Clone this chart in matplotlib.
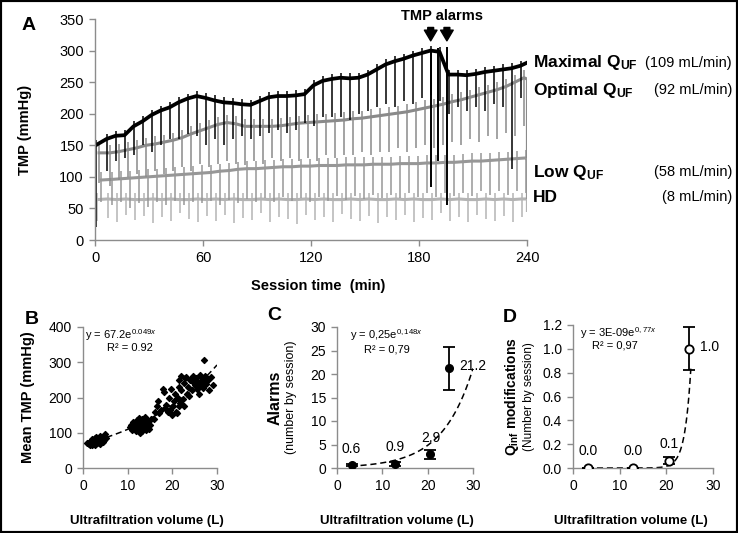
import numpy as np
import matplotlib
matplotlib.use("Agg")
from matplotlib import pyplot as plt
from matplotlib.patches import Rectangle
from matplotlib.ticker import FormatStrFormatter

plt.rcParams['font.family'] = ['Liberation Sans', 'DejaVu Sans']
plt.rcParams['mathtext.fontset'] = 'custom'
plt.rcParams['mathtext.rm'] = 'Liberation Sans'
plt.rcParams['mathtext.it'] = 'Liberation Sans:italic'
plt.rcParams['mathtext.bf'] = 'Liberation Sans:bold'

# ---- panel A: TMP trace, level and dip bottom at each pump cycle (min, mmHg)
t_cycle = [1, 7, 12, 17, 22, 27, 32, 37, 42, 47, 52, 57, 62, 67, 72, 77, 82,
           87, 92, 97, 102, 107, 112, 117, 122, 127, 132, 137, 142, 147, 152,
           157, 162, 167, 172, 177, 182, 187, 192, 197, 202, 207, 212, 217,
           222, 227, 232, 237, 240]
# the four sessions are not in phase: shift of each trace's cycles (min)
cycle_shift = [-0.6, 1.3, 2.5, 0.0]
# small overshoot above the level at each cycle (mmHg)
overshoot = [8, 12, 12, 10]

max_level = [150, 160, 165, 166, 180, 188, 198, 205, 210, 218, 224, 228, 225,
             221, 218, 217, 215, 214, 220, 226, 228, 228, 229, 231, 245, 252,
             255, 257, 256, 257, 262, 270, 278, 283, 287, 292, 296, 300, 298,
             262, 262, 261, 263, 266, 268, 270, 272, 276, 280]
max_dip = [20, 110, 125, 130, 135, 150, 140, 150, 160, 160, 168, 165, 150,
           160, 150, 160, 165, 160, 165, 170, 175, 170, 175, 185, 180, 195,
           195, 195, 190, 200, 205, 210, 215, 210, 220, 215, 225, 230, 220,
           200, 210, 205, 210, 205, 215, 210, 112, 225, 280]

opt_level = [138, 138, 140, 143, 146, 150, 152, 155, 158, 162, 168, 173, 178,
             183, 186, 184, 180, 180, 180, 180, 181, 183, 185, 186, 187, 188,
             189, 190, 192, 193, 195, 197, 199, 201, 203, 206, 209, 212, 215,
             219, 222, 226, 230, 234, 238, 243, 250, 257, 255]
opt_dip = [90, 85, 95, 100, 105, 100, 110, 105, 110, 115, 110, 120, 115, 120,
           125, 120, 118, 125, 120, 130, 125, 130, 125, 130, 125, 135, 130,
           135, 135, 140, 135, 140, 140, 145, 140, 145, 150, 145, 150, 155,
           150, 160, 155, 165, 160, 170, 165, 180, 130]

low_level = [95, 96, 97, 98, 99, 100, 101, 102, 103, 104, 105, 106, 107, 109,
             110, 112, 113, 113, 114, 115, 116, 116, 117, 117, 118, 118, 118,
             119, 119, 119, 120, 120, 120, 121, 121, 121, 122, 122, 123, 123,
             124, 125, 125, 126, 127, 128, 129, 130, 128]
low_dip = [60, 55, 60, 50, 58, 52, 60, 55, 62, 55, 60, 58, 62, 55, 63, 58, 65,
           60, 66, 60, 68, 62, 66, 60, 68, 62, 70, 64, 70, 65, 72, 66, 72, 66,
           74, 68, 74, 68, 75, 70, 75, 70, 77, 72, 78, 72, 78, 74, 65]

hd_level = [64, 65, 64, 65, 64, 64, 65, 64, 65, 64, 64, 65, 64, 65, 64, 65,
            64, 64, 65, 64, 65, 64, 64, 65, 64, 65, 64, 64, 65, 64, 65, 64,
            64, 65, 64, 65, 64, 64, 65, 64, 65, 64, 64, 65, 64, 65, 64, 65, 65]
hd_dip = [30, 35, 28, 40, 32, 38, 27, 36, 30, 42, 33, 28, 38, 30, 40, 27, 35,
          31, 42, 29, 36, 33, 25, 40, 32, 37, 28, 41, 33, 30, 38, 27, 36, 32,
          40, 29, 35, 31, 42, 30, 37, 28, 39, 33, 30, 38, 29, 36, 44]

alarm_t = [186.5, 190.5, 195.5]
alarm_low = [84, 125, 55]
alarm_high = [300, 304, 306]

series_names = ["Maximal Q$_\\mathbf{UF}$", "Optimal Q$_\\mathbf{UF}$",
                "Low Q$_\\mathbf{UF}$", "HD"]
series_rates = ["(109 mL/min)", "(92 mL/min)", "(58 mL/min)", "(8 mL/min)"]

# ---- panel B: mean TMP per session vs ultrafiltration volume
uf_vol = [1.0, 1.2, 1.4, 1.5, 1.6, 1.8, 1.9, 2.0, 2.1, 2.2, 2.3, 2.4, 2.5,
          2.6, 2.7, 2.8, 2.9, 3.0, 3.1, 3.2, 3.3, 3.4, 3.5, 3.6, 3.8, 3.9,
          4.0, 4.2, 4.4, 4.6, 4.8, 5.0, 5.1, 4.5, 2.0, 3.7,
          10.5, 10.8, 11.0, 11.2, 11.4, 11.6, 11.8, 12.0, 12.2, 12.4, 12.5,
          12.7, 12.9, 13.0, 13.2, 13.3, 13.5, 13.7, 13.9, 14.0, 14.2, 14.4,
          14.6, 14.8, 15.0, 15.3, 12.8, 11.0,
          15.8, 16.2, 16.5, 16.8, 17.0, 17.5, 18.0, 18.2, 18.3, 18.6, 19.0,
          19.2, 19.5, 19.8, 20.0, 20.2, 20.4, 20.6, 20.8, 21.0, 21.2, 21.4,
          21.6, 21.8, 22.0, 22.3, 22.5, 22.8,
          21.5, 22.0, 22.6, 23.0, 23.2, 23.5, 23.8, 24.0, 24.3, 24.6, 24.8,
          25.0, 25.3, 25.5, 25.8, 26.0, 26.2, 26.4, 26.6, 26.8, 27.0, 27.2,
          27.4, 27.6, 28.0, 28.3, 28.6, 29.0, 26.0, 25.0]
mean_tmp = [70, 72, 68, 75, 66, 70, 78, 64, 73, 80, 69, 76, 72, 84, 66, 79,
            74, 88, 70, 82, 77, 73, 85, 80, 76, 90, 82, 78, 86, 80, 90, 96,
            84, 74, 82, 68,
            115, 122, 108, 130, 118, 112, 104, 125, 135, 110, 142, 120, 116,
            130, 105, 138, 124, 112, 145, 128, 108, 118, 132, 110, 122, 140,
            100, 110,
            140, 160, 175, 190, 155, 165, 225, 215, 170, 180, 158, 200, 165,
            225, 150, 175, 190, 210, 160, 155, 200, 230, 175, 185, 220, 195,
            175, 255,
            250, 262, 240, 258, 210, 230, 205, 250, 220, 260, 240, 235, 255,
            225, 245, 230, 265, 240, 250, 228, 305, 245, 260, 238, 250, 220,
            258, 235, 210, 250]
fit_b = (67.2, 0.049)

# ---- panels C and D: group means by UF volume
group_vol = [3.2, 12.9, 20.6, 24.8]
alarms = [0.6, 0.9, 2.9, 21.2]
alarms_err = [0.2, 0.4, 1.0, 4.5]
fit_c = (0.25, 0.148)
qinf_mod = [0.0, 0.0, 0.06, 1.0]
qinf_err = [0.0, 0.0, 0.03, 0.18]
fit_d = (3e-9, 0.77)

W, H = 738, 533


def px(x):
    return x / W


def py(y):
    return 1 - y / H


def box(left, top, right, bottom):
    return [px(left), py(bottom), (right - left) / W, (bottom - top) / H]


def style(ax, size):
    for s in ['top', 'right']:
        ax.spines[s].set_visible(False)
    for s in ['left', 'bottom']:
        ax.spines[s].set_color('#8c8c8c')
        ax.spines[s].set_linewidth(1.0)
    ax.tick_params(color='#8c8c8c', labelcolor='black', length=4, width=1,
                   direction='out', labelsize=size, pad=4)


fig = plt.figure(figsize=(W / 100, H / 100), dpi=100)

# panel A
ax = fig.add_axes(box(95, 19, 527, 240))
colors = ['black', '#8a8a8a', '#979797', '#b4b4b4']
levels = [max_level, opt_level, low_level, hd_level]
dips = [max_dip, opt_dip, low_dip, hd_dip]
for i in [3, 2, 1, 0]:
    tt = np.clip(np.array(t_cycle) + cycle_shift[i], 0, 240)
    lev = np.array(levels[i])
    ax.vlines(tt[:-1], np.array(dips[i])[:-1], lev[:-1] + overshoot[i],
              color=colors[i], lw=1.1)
    ax.vlines(tt[-1], dips[i][-1], lev[-1], color=colors[i], lw=1.6)
    ax.plot(tt, lev, color=colors[i], lw=2.7 if i == 0 else 2.2)
ax.vlines(alarm_t, alarm_low, alarm_high, color='black', lw=1.4)
for t in [alarm_t[0], alarm_t[-1]]:
    ax.annotate('', xy=(t, 311), xytext=(t, 341),
                arrowprops=dict(arrowstyle='simple,head_length=0.55,head_width=0.65,tail_width=0.3',
                                fc='black', ec='black', mutation_scale=14))
ax.set_xlim(0, 240)
ax.set_ylim(0, 350)
ax.set_xticks([0, 60, 120, 180, 240])
ax.set_yticks(range(0, 351, 50))
style(ax, 10.5)
ax.set_xlabel('Session time  (min)', fontsize=10.5, fontweight='bold')
ax.xaxis.set_label_coords(0.516, -0.175)
ax.set_ylabel('TMP (mmHg)', fontsize=10.5, fontweight='bold')
ax.yaxis.set_label_coords(-0.146, 0.5)
fig.text(px(442), py(16), 'TMP alarms', ha='center', va='center',
         fontsize=10.5, fontweight='bold')

label_y = [63, 90, 172, 197]
for name, rate, yy in zip(series_names, series_rates, label_y):
    fig.text(px(533), py(yy), name, ha='left', va='center', fontsize=12.5,
             fontweight='bold')
    fig.text(px(732), py(yy), rate, ha='right', va='center', fontsize=10.5)

# panel B
axb = fig.add_axes(box(83, 327, 217, 468))
axb.scatter(uf_vol, mean_tmp, marker='D', s=9, color='black', zorder=3)
xb = np.linspace(1, 30, 100)
axb.plot(xb, fit_b[0] * np.exp(fit_b[1] * xb), color='black', lw=1.1,
         dashes=(4, 2.5))
axb.set_xlim(0, 30)
axb.set_ylim(0, 400)
axb.set_xticks([0, 10, 20, 30])
axb.set_yticks(range(0, 401, 100))
style(axb, 10)
axb.set_ylabel('Mean TMP (mmHg)', fontsize=10.5, fontweight='bold')
axb.yaxis.set_label_coords(-0.36, 0.5)
fig.text(px(121), py(335), 'y = 67.2e$^{0.049x}$', ha='center', va='center',
         fontsize=8)
fig.text(px(130), py(348), 'R² = 0.92', ha='center', va='center', fontsize=8)

# panel C
axc = fig.add_axes(box(337, 327, 473, 468))
xc = np.linspace(3, 30, 100)
axc.plot(xc, fit_c[0] * np.exp(fit_c[1] * xc), color='black', lw=1.1,
         dashes=(4, 2.5))
axc.errorbar(group_vol, alarms, yerr=alarms_err, fmt='o', color='black',
             ms=5.5, elinewidth=1.3, capsize=4, capthick=1.3, zorder=3)
for xv, yv in zip(group_vol[:3], alarms[:3]):
    axc.annotate(f'{yv:.1f}', (xv, yv), xytext=(0, 12), textcoords='offset points',
                 ha='center', va='center', fontsize=10)
axc.annotate(f'{alarms[3]:.1f}', (group_vol[3], alarms[3]), xytext=(7, 2),
             textcoords='offset points', ha='left', va='center', fontsize=10)
axc.set_xlim(0, 30)
axc.set_ylim(0, 30)
axc.set_xticks([0, 10, 20, 30])
axc.set_yticks(range(0, 31, 5))
style(axc, 10)
axc.text(-0.456, 0.5, 'Alarms', transform=axc.transAxes, rotation=90,
         ha='center', va='center', fontsize=11.5, fontweight='bold')
axc.text(-0.34, 0.5, '(number by session)', transform=axc.transAxes,
         rotation=90, ha='center', va='center', fontsize=9)
fig.text(px(387), py(335), 'y = 0,25e$^{0,148x}$', ha='center', va='center',
         fontsize=8)
fig.text(px(387), py(349), 'R² = 0,79', ha='center', va='center', fontsize=8)

# panel D
axd = fig.add_axes(box(573, 325, 713, 468))
xd = np.linspace(3, 25.25, 200)
axd.plot(xd, fit_d[0] * np.exp(fit_d[1] * xd), color='black', lw=1.1,
         dashes=(4, 2.5))
axd.errorbar(group_vol, qinf_mod, yerr=qinf_err, fmt='o', color='black',
             mfc='white', mec='black', mew=1.3, ms=6, elinewidth=1.3,
             capsize=4, capthick=1.3, zorder=3)
for xv, yv in zip(group_vol[:3], qinf_mod[:3]):
    axd.annotate(f'{yv:.1f}', (xv, yv), xytext=(0, 12), textcoords='offset points',
                 ha='center', va='center', fontsize=10)
axd.annotate(f'{qinf_mod[3]:.1f}', (group_vol[3], qinf_mod[3]), xytext=(8, 1),
             textcoords='offset points', ha='left', va='center', fontsize=10)
axd.set_xlim(0, 30)
axd.set_ylim(0, 1.2)
axd.set_xticks([0, 10, 20, 30])
axd.set_yticks(np.arange(0, 1.21, 0.2))
axd.yaxis.set_major_formatter(FormatStrFormatter('%.1f'))
style(axd, 10)
axd.text(-0.436, 0.5, 'Q$_\\mathbf{inf}$ modifications', transform=axd.transAxes,
         rotation=90, ha='center', va='center', fontsize=10, fontweight='bold')
axd.text(-0.315, 0.5, '(Number by session)', transform=axd.transAxes,
         rotation=90, ha='center', va='center', fontsize=8.5)
fig.text(px(618), py(333), 'y = 3E-09e$^{0,77x}$', ha='center', va='center',
         fontsize=8)
fig.text(px(615), py(346), 'R² = 0,97', ha='center', va='center', fontsize=8)

for axx, xc_lbl in [(axb, 0.478), (axc, 0.44), (axd, 0.41)]:
    axx.set_xlabel('Ultrafiltration volume (L)', fontsize=9.5, fontweight='bold')
    axx.xaxis.set_label_coords(xc_lbl, -0.33)

# panel letters
for letter, (lx, ly) in zip('ABCD', [(29, 25), (32, 320), (274, 315), (510, 317)]):
    fig.text(px(lx), py(ly), letter, ha='center', va='center', fontsize=14,
             fontweight='bold')

fig.patches.append(Rectangle((0, 0), 1, 1, transform=fig.transFigure,
                             fill=False, lw=3, ec='black'))

fig.savefig('out.png', dpi=100)
